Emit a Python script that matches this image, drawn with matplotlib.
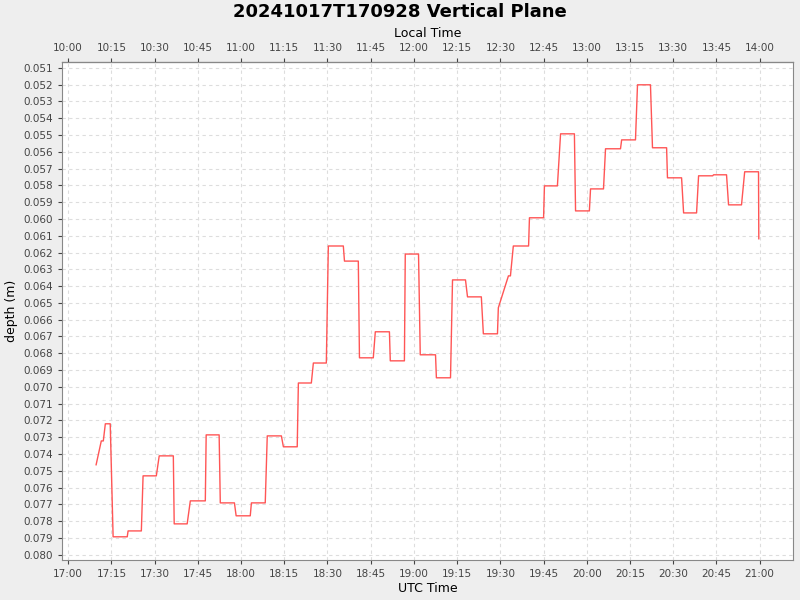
import matplotlib
matplotlib.use("Agg")
import matplotlib.pyplot as plt
import matplotlib.dates as mdates
import matplotlib.ticker as mticker
from datetime import datetime, timedelta

minutes = [9.7,11.5,12.2,12.9,14.6,15.6,20.5,20.8,25.4,26.0,30.6,31.6,36.5,36.8,41.3,42.4,47.6,47.9,52.4,52.8,
           57.7,58.3,63.2,63.6,68.4,69.1,74.0,74.7,79.5,79.9,84.4,85.1,89.6,90.3,95.5,95.9,100.7,101.1,105.9,106.6,
           111.5,111.8,116.7,117.0,121.6,122.2,127.5,127.8,132.7,133.4,137.9,138.6,143.4,144.1,149.0,149.3,152.8,153.5,154.5,
           159.8,160.1,165.0,165.3,169.8,170.9,175.7,176.1,180.9,181.3,185.8,186.5,191.7,192.1,196.9,197.6,202.1,202.8,
           207.7,208.0,212.9,213.6,218.1,218.8,223.7,224.0,228.5,229.2,233.7,234.8,239.6,239.7]
depth = [0.07464,0.07322,0.07322,0.07220,0.07220,0.07893,0.07893,0.07858,0.07858,0.07530,0.07530,0.07411,0.07411,0.07816,
         0.07816,0.07679,0.07679,0.07286,0.07286,0.07691,0.07691,0.07768,0.07768,0.07691,0.07691,0.07292,0.07292,0.07357,
         0.07357,0.06977,0.06977,0.06858,0.06858,0.06161,0.06161,0.06251,0.06251,0.06827,0.06827,0.06672,0.06672,0.06845,
         0.06845,0.06209,0.06209,0.06809,0.06809,0.06946,0.06946,0.06363,0.06363,0.06464,0.06464,0.06684,0.06684,0.06529,
         0.06339,0.06339,0.06161,0.06161,0.05993,0.05993,0.05803,0.05803,0.05493,0.05493,0.05952,0.05952,0.05821,0.05821,
         0.05582,0.05582,0.05529,0.05529,0.05201,0.05201,0.05576,0.05576,0.05755,0.05755,0.05964,0.05964,0.05743,0.05743,
         0.05737,0.05737,0.05916,0.05916,0.05719,0.05719,0.06118]

t0 = datetime(2024, 10, 17, 17, 0)
times = [t0 + timedelta(minutes=m) for m in minutes]

fig = plt.figure(figsize=(8, 6), dpi=100, facecolor="#eeeeee")
ax = fig.add_axes([0.078, 0.067, 0.913, 0.83])
ax.set_facecolor("white")
ax.plot(times, depth, color="#ff5555", lw=1)
ax.set_xlim(t0 - timedelta(minutes=2), t0 + timedelta(minutes=251.5))
ax.set_ylim(0.0803, 0.05064)
ax.yaxis.set_major_locator(mticker.MultipleLocator(0.001))
ax.yaxis.set_major_formatter(mticker.FormatStrFormatter("%.3f"))
ax.xaxis.set_major_locator(mdates.MinuteLocator(byminute=[0, 15, 30, 45]))
ax.xaxis.set_major_formatter(mdates.DateFormatter("%H:%M"))
ax.grid(True, color="#dddddd", ls=(0, (3, 3)), lw=0.8)
for s in ax.spines.values():
    s.set_color("#888888")
ax.tick_params(labelsize=7.5, colors="#444444", length=3)
ax.set_xlabel("UTC Time", fontsize=9, labelpad=2)
ax.set_ylabel("depth (m)", fontsize=9)

off = 7 / 24
sec = ax.secondary_xaxis("top", functions=(lambda x: x - off, lambda x: x + off))
sec.xaxis.set_major_locator(mdates.MinuteLocator(byminute=[0, 15, 30, 45]))
sec.xaxis.set_major_formatter(mdates.DateFormatter("%H:%M"))
sec.tick_params(labelsize=7.5, colors="#444444", length=3)
sec.set_xlabel("Local Time", fontsize=9, labelpad=4)
fig.suptitle("20241017T170928 Vertical Plane", fontsize=13, fontweight="bold", y=0.995)
fig.savefig("out.png", dpi=100, facecolor=fig.get_facecolor())
